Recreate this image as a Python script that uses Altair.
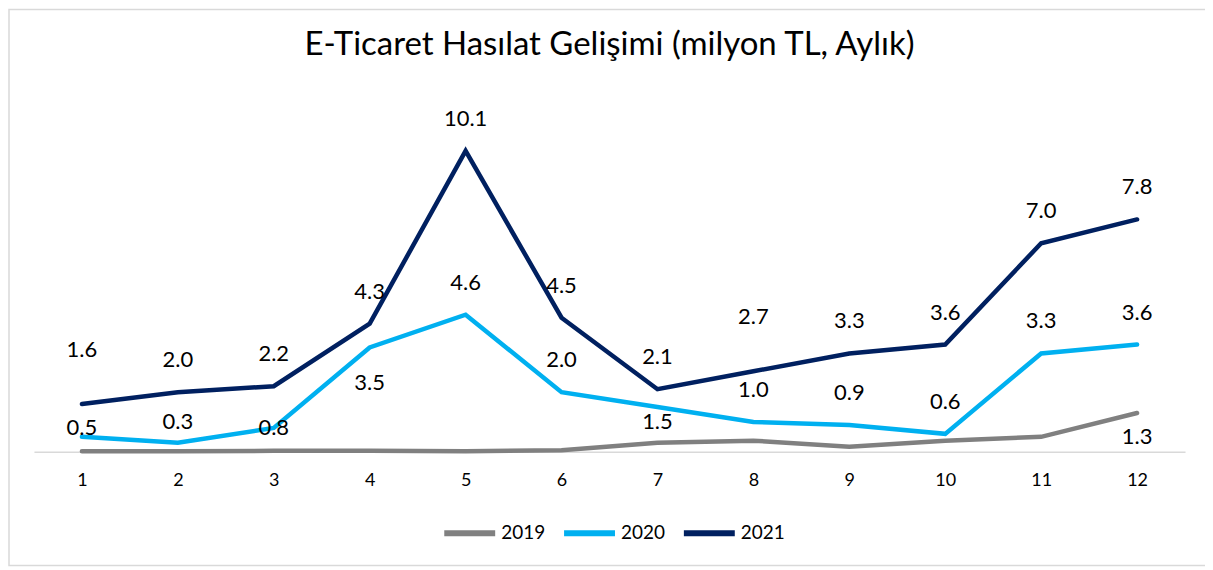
import altair as alt
import pandas as pd

months = list(range(1, 13))
series = ["2019", "2020", "2021"]
v2019 = [0.02, 0.02, 0.03, 0.03, 0.02, 0.05, 0.30, 0.37, 0.17, 0.37, 0.50, 1.3]
v2020 = [0.5, 0.3, 0.8, 3.5, 4.6, 2.0, 1.5, 1.0, 0.9, 0.6, 3.3, 3.6]
v2021 = [1.6, 2.0, 2.2, 4.3, 10.1, 4.5, 2.1, 2.7, 3.3, 3.6, 7.0, 7.8]

# label placement class for each point ("none" = no data label)
place2019 = ["none"] * 11 + ["low"]
place2020 = ["near", "mid", "on", "below", "above", "above", "under",
             "above", "above", "above", "above", "above"]
place2021 = ["high", "above", "above", "above", "above", "above", "above",
             "high", "above", "above", "above", "above"]

colors = ["#808080", "#00B0F0", "#002060"]
FONT = "Lato"

rows = []
for name, vals, places in [("2019", v2019, place2019),
                           ("2020", v2020, place2020),
                           ("2021", v2021, place2021)]:
    for m, v, p in zip(months, vals, places):
        rows.append({"month": m, "year": name, "value": v, "place": p})
df = pd.DataFrame(rows)

x = alt.X("month:O", title=None,
          axis=alt.Axis(labelAngle=0, labelFont=FONT, labelFontSize=18,
                        labelColor="#000000", ticks=False, domain=True,
                        domainColor="#D9D9D9", domainWidth=1.5,
                        labelPadding=20))
y = alt.Y("value:Q", title=None, scale=alt.Scale(domain=[0, 12], nice=False),
          axis=None)

base = alt.Chart(df)

# light grey chart-area frame (decoration)
frame = alt.Chart(pd.DataFrame({"f": [0]})).mark_rect(
    fill=None, stroke="#D9D9D9", strokeWidth=1.5
).encode(x=alt.value(-25), x2=alt.value(1220), y=alt.value(-85), y2=alt.value(472))

lines = base.mark_line(strokeWidth=4.5, strokeCap="round", strokeJoin="miter").encode(
    x=x, y=y,
    color=alt.Color("year:N", scale=alt.Scale(domain=series, range=colors),
                    legend=alt.Legend(title=None, orient="none", direction="horizontal",
                                      legendX=408, legendY=411,
                                      symbolType="stroke", symbolSize=2601,
                                      symbolStrokeWidth=6, labelFont=FONT,
                                      labelFontSize=19, labelColor="#000000",
                                      labelOffset=3, columnPadding=6, padding=0)))

offsets = {"above": -32, "high": -54, "near": -9, "mid": -21, "on": 0,
           "below": 36, "under": 15, "low": 24}

layers = [frame, lines]
for place, dy in offsets.items():
    layers.append(
        base.transform_filter(alt.datum.place == place).mark_text(
            font=FONT, fontSize=22, color="#000000", dy=dy, baseline="middle"
        ).encode(x=x, y=y, text=alt.Text("value:Q", format=".1f"))
    )

chart = alt.layer(*layers).properties(
    width=1153, height=358,
    padding={"left": 26, "top": 86, "right": 20, "bottom": 118},
    autosize=alt.AutoSizeParams(type="none"),
    title=alt.Title("E-Ticaret Hasılat Gelişimi (milyon TL, Aylık)",
                    font=FONT, fontSize=33, fontWeight="normal",
                    color="#000000", offset=-53, anchor="middle", frame="group"),
).configure_view(stroke=None).configure_scale(pointPadding=0.5)

chart.save("out.html", embed_options={"renderer": "svg", "actions": False})
